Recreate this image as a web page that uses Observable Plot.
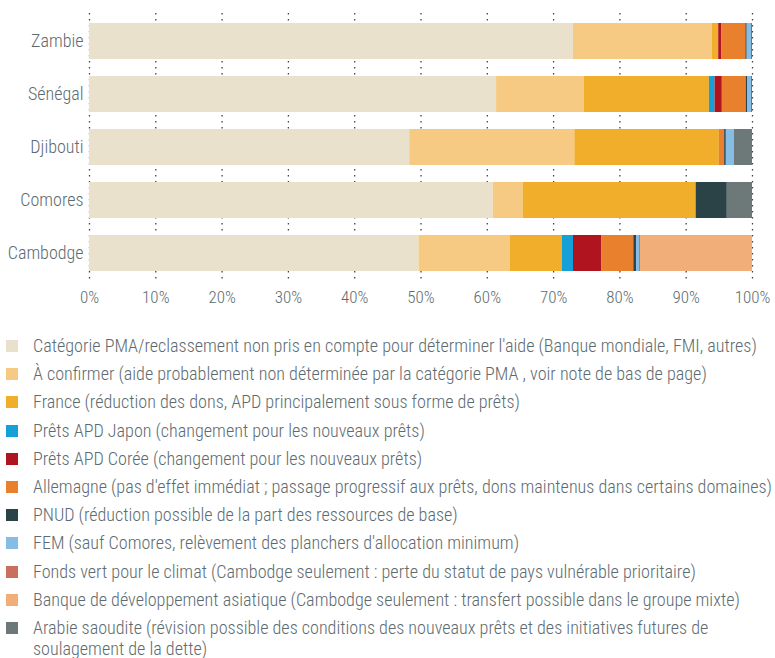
<!DOCTYPE html>
<html><head><meta charset="utf-8">
<script src="https://cdn.jsdelivr.net/npm/d3@7"></script>
<script src="https://cdn.jsdelivr.net/npm/@observablehq/plot@0.6"></script>
<style>
html{overflow:hidden;}
body{margin:0;background:#fff;font-family:"Roboto Condensed",Roboto,sans-serif;font-weight:300;}
#chart svg{display:block;}
#legend{margin:20px 0 0 6px;color:#5d6b70;font-size:18.1px;}
.item{display:flex;align-items:flex-start;height:28.2px;line-height:21px;white-space:nowrap;}
.item.last{height:auto;}
.sw{width:12px;height:12px;flex:none;margin:5px 15px 0 0;}
</style></head><body>
<div id="chart"></div>
<div id="legend"></div>
<script>
const countries = ["Zambie","Sénégal","Djibouti","Comores","Cambodge"];
const categories = [
 "Catégorie PMA/reclassement non pris en compte pour déterminer l'aide (Banque mondiale, FMI, autres)",
 "À confirmer (aide probablement non déterminée par la catégorie PMA , voir note de bas de page)",
 "France (réduction des dons, APD principalement sous forme de prêts)",
 "Prêts APD Japon (changement pour les nouveaux prêts)",
 "Prêts APD Corée (changement pour les nouveaux prêts)",
 "Allemagne (pas d'effet immédiat ; passage progressif aux prêts, dons maintenus dans certains domaines)",
 "PNUD (réduction possible de la part des ressources de base)",
 "FEM (sauf Comores, relèvement des planchers d'allocation minimum)",
 "Fonds vert pour le climat (Cambodge seulement : perte du statut de pays vulnérable prioritaire)",
 "Banque de développement asiatique (Cambodge seulement : transfert possible dans le groupe mixte)",
 "Arabie saoudite (révision possible des conditions des nouveaux prêts et des initiatives futures de soulagement de la dette)"
];
const colors = ["#e9e1cc","#f6ca82","#f0ae2a","#16a0d8","#b0151f","#e9802d","#2b4247","#86bde5","#c96f5b","#f2ae79","#6d7979"];
const zambie   = [73.0, 20.9, 1.0, 0, 0.5, 3.6, 0.2, 0.65, 0, 0, 0.15];
const senegal  = [61.4, 13.2, 18.9, 0.85, 1.1, 3.6, 0.2, 0.6, 0, 0, 0.15];
const djibouti = [48.3, 24.9, 21.8, 0, 0, 0.8, 0.25, 1.2, 0, 0, 2.75];
const comores  = [60.9, 4.5, 26.1, 0, 0, 0, 4.7, 0, 0, 0, 3.8];
const cambodge = [49.7, 13.8, 7.8, 1.7, 4.3, 4.8, 0.4, 0.45, 0.15, 16.9, 0];
const xTicks = [0,10,20,30,40,50,60,70,80,90,100];

const series = [zambie, senegal, djibouti, comores, cambodge];
const data = [];
countries.forEach((c,i)=>series[i].forEach((v,j)=>{ if(v>0) data.push({country:c, category:categories[j], value:v}); }));

const plot = Plot.plot({
  width: 775, height: 315,
  marginLeft: 89, marginRight: 23, marginTop: 13, marginBottom: 34,
  style: {fontFamily: '"Roboto Condensed",Roboto,sans-serif', fontSize: "17px", fontWeight: 300, color:"#5d6b70"},
  x: {domain:[0,100], ticks: xTicks, tickFormat: d=>d+"%", tickSize:0, tickPadding:9, label:null},
  y: {domain: countries, paddingInner:0.33, paddingOuter:0.165, axis:null},
  color: {domain: categories, range: colors},
  marks: [
    Plot.ruleX(xTicks, {stroke:"#444", strokeDasharray:"1.5,4.5", strokeWidth:1.3}),
    Plot.barX(data, {x:"value", y:"country", fill:"category", order: categories}),
    Plot.axisY({tickSize:0, tickPadding:6, fontSize:18, label:null})
  ]
});
document.getElementById("chart").appendChild(plot);

const lg = document.getElementById("legend");
categories.forEach((c,i)=>{
  const it = document.createElement("div"); it.className="item";
  const sw = document.createElement("div"); sw.className="sw"; sw.style.background=colors[i];
  const t = document.createElement("div");
  if(i===categories.length-1){ it.className="item last"; t.innerHTML = "Arabie saoudite (révision possible des conditions des nouveaux prêts et des initiatives futures de<br>soulagement de la dette)"; }
  else t.textContent = c;
  it.appendChild(sw); it.appendChild(t); lg.appendChild(it);
});
</script>
</body></html>
